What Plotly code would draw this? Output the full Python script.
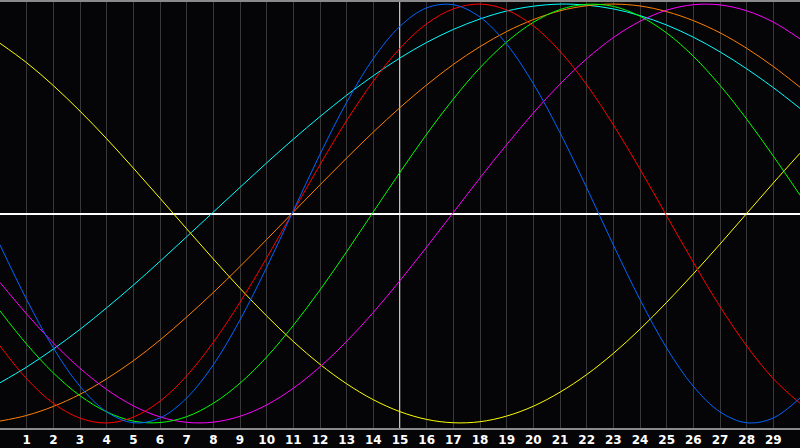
import plotly.graph_objects as go

days = list(range(0, 31))
tick_days = list(range(1, 30))
tick_labels = [str(d) for d in tick_days]

# cycle values at each day (x = 0..30)
blue = [-0.150, -0.411, -0.642, -0.825, -0.947, -0.999, -0.976, -0.881, -0.722, -0.508,
        -0.257, 0.014, 0.283, 0.531, 0.740, 0.894, 0.982, 0.997, 0.938, 0.809,
        0.620, 0.386, 0.123, -0.150, -0.411, -0.642, -0.825, -0.947, -0.999, -0.976, -0.881]
red = [-0.632, -0.789, -0.906, -0.977, -1.000, -0.972, -0.896, -0.775, -0.615, -0.424,
       -0.212, 0.011, 0.233, 0.444, 0.632, 0.789, 0.906, 0.977, 1.000, 0.972,
       0.896, 0.775, 0.615, 0.424, 0.212, -0.011, -0.233, -0.444, -0.632, -0.789, -0.906]
green = [-0.465, -0.624, -0.761, -0.870, -0.947, -0.991, -0.998, -0.970, -0.906, -0.810,
         -0.685, -0.534, -0.365, -0.182, 0.008, 0.197, 0.379, 0.547, 0.696, 0.819,
         0.913, 0.974, 0.999, 0.989, 0.942, 0.862, 0.751, 0.612, 0.451, 0.274, 0.088]
magenta = [-0.329, -0.480, -0.618, -0.739, -0.840, -0.918, -0.971, -0.997, -0.996, -0.968,
           -0.914, -0.834, -0.732, -0.610, -0.472, -0.320, -0.160, 0.005, 0.170, 0.329,
           0.480, 0.618, 0.739, 0.840, 0.918, 0.971, 0.997, 0.996, 0.968, 0.914, 0.834]
yellow = [0.813, 0.720, 0.611, 0.489, 0.357, 0.217, 0.073, -0.073, -0.217, -0.357,
          -0.489, -0.611, -0.720, -0.813, -0.889, -0.946, -0.983, -0.999, -0.994, -0.967,
          -0.920, -0.853, -0.769, -0.668, -0.552, -0.424, -0.288, -0.146, 0.000, 0.146, 0.288]
orange = [-0.991, -0.964, -0.921, -0.863, -0.789, -0.703, -0.604, -0.494, -0.377, -0.253,
          -0.124, 0.007, 0.137, 0.265, 0.389, 0.506, 0.614, 0.712, 0.797, 0.869,
          0.926, 0.968, 0.992, 1.000, 0.991, 0.964, 0.921, 0.863, 0.789, 0.702, 0.603]
cyan = [-0.808, -0.733, -0.647, -0.553, -0.450, -0.342, -0.228, -0.111, 0.007, 0.125,
        0.242, 0.355, 0.463, 0.565, 0.658, 0.743, 0.817, 0.879, 0.929, 0.967,
        0.990, 1.000, 0.995, 0.977, 0.945, 0.900, 0.842, 0.772, 0.691, 0.601, 0.502]

series = [
    ("cyan", cyan, "#00ffff"),
    ("orange", orange, "#ff8000"),
    ("yellow", yellow, "#ffff00"),
    ("magenta", magenta, "#ff00ff"),
    ("green", green, "#00ff00"),
    ("red", red, "#ff0000"),
    ("blue", blue, "#0066ff"),
]

fig = go.Figure()
for name, vals, col in series:
    fig.add_trace(go.Scatter(x=days, y=vals, mode="lines", name=name,
                             line=dict(color=col, width=1, shape="spline", smoothing=1.0),
                             hoverinfo="skip"))

fig.add_vline(x=15, line=dict(color="#ffffff", width=1.5), layer="below")

fig.update_layout(
    width=800, height=448,
    margin=dict(l=0, r=0, t=0, b=20),
    paper_bgcolor="#050508",
    plot_bgcolor="#050508",
    showlegend=False,
    xaxis=dict(range=[0, 30], tickmode="array", tickvals=tick_days, ticktext=tick_labels,
               showgrid=True, gridcolor="#383838", gridwidth=1,
               showline=True, linecolor="#8a8a8a", linewidth=2, mirror=True,
               zeroline=False, ticks="",
               tickfont=dict(color="#ffffff", size=12, family="DejaVu Sans", weight="bold")),
    yaxis=dict(range=[-1.024, 1.01], showgrid=False, showticklabels=False,
               zeroline=True, zerolinecolor="#ffffff", zerolinewidth=2,
               showline=True, linecolor="#8a8a8a", linewidth=2, mirror=False, ticks=""),
)

fig.write_html("out.html", config={"displayModeBar": False},
               post_script="document.body.style.margin='0';document.body.style.overflow='hidden';document.body.style.background='#050508';")
